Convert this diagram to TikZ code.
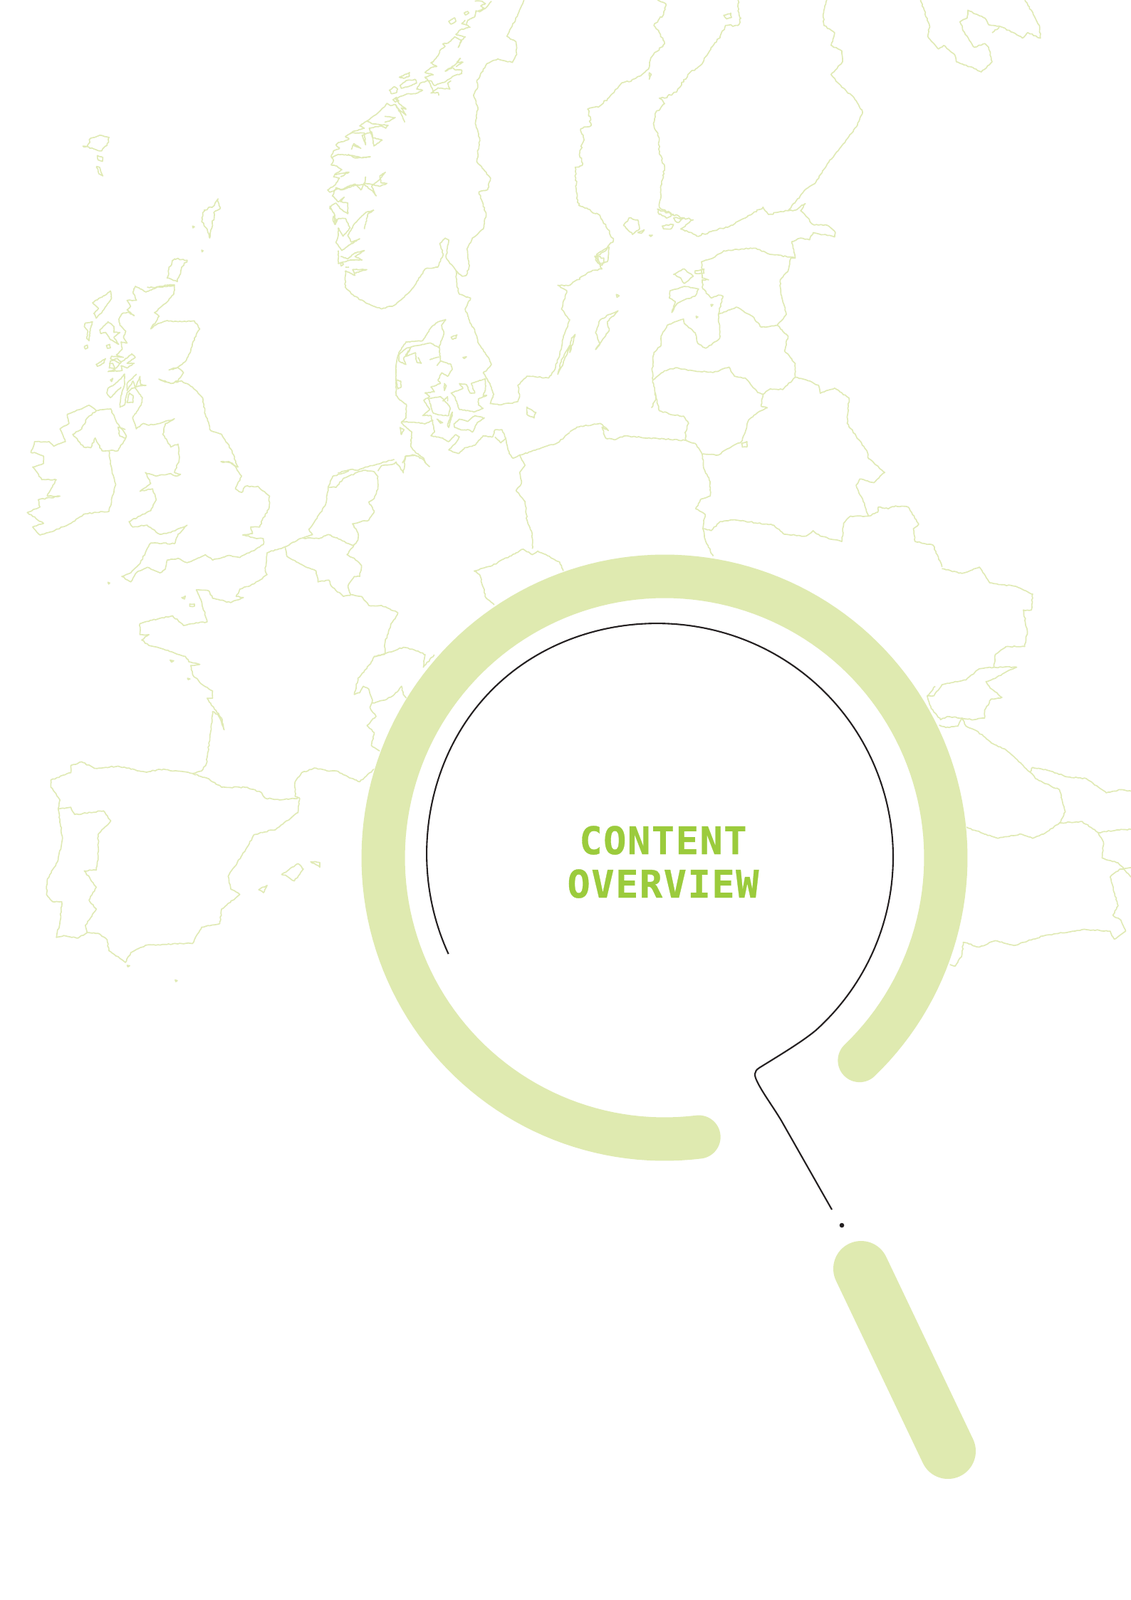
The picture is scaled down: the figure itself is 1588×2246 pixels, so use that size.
\documentclass[tikz,border=0pt]{standalone}
\usepackage{fontspec}
\usetikzlibrary{decorations.pathmorphing}
\newfontfamily\titlefont[LetterSpace=3.0,FakeBold=0.6]{DejaVu Sans Mono Bold}
\definecolor{mapc}{HTML}{E0EAB4}
\definecolor{ringc}{HTML}{DFEAB0}
\definecolor{titlec}{HTML}{9BCB3C}
\definecolor{inkc}{HTML}{231F20}
\tikzset{
 mapl/.style={draw=mapc,line width=0.82pt,line join=round,decorate,decoration={random steps,segment length=1.5pt,amplitude=0.4pt}},
 jag/.style={draw=mapc,line width=0.82pt,line join=round,decorate,decoration={random steps,segment length=1.5pt,amplitude=0.7pt}},
 fine/.style={draw=mapc,line width=0.82pt,line join=round,decorate,decoration={random steps,segment length=1pt,amplitude=0.25pt}},
 za/.style={x=0.2551pt,y=-0.2551pt},
 zb/.style={x=0.25126pt,y=-0.2551pt,shift={(400pt,0pt)}},
 zc/.style={x=0.2551pt,y=-0.2551pt,shift={(0pt,-300pt)}},
 zd/.style={x=0.18748pt,y=-0.22321pt,shift={(500pt,-350pt)}},
 zm/.style={x=0.16667pt,y=-0.16667pt,shift={(270pt,0pt)}},
 zn/.style={x=0.16667pt,y=-0.16667pt,shift={(227.5pt,-85pt)}},
 zs/.style={x=0.16667pt,y=-0.16667pt,shift={(55pt,-197.5pt)}},
 zk/.style={x=0.16667pt,y=-0.16667pt,shift={(275pt,-220pt)}},
 ringl/.style={draw=ringc,line width=30.5pt,line cap=round},
 handl/.style={draw=ringc,line width=39pt,line cap=round},
 inkl/.style={draw=inkc,line width=1.05pt,line join=round},
 titlet/.style={text=titlec,font=\titlefont\fontsize{26.75}{30}\selectfont,anchor=base,inner sep=0pt}
}
\begin{document}
\begin{tikzpicture}[x=0.5pt,y=-0.5pt]
\path[use as bounding box,fill=white] (0,0) rectangle (1588,2246);
% ---------- north-west map
\begin{scope}[za]
% Faroe, Shetland, Orkney
\draw[jag] (228,402)--(240,403)--(250,380)--(275,372)--(300,378)--(295,395)--(280,415)--(265,412)--(245,405)--cycle;
\draw[mapl] (268,428)--(283,433)--(282,444)--(270,440)--cycle;
\draw[mapl] (266,458)--(275,462)--(283,484)--(272,478)--cycle;
\draw[jag] (600,547)--(605,575)--(588,585)--(585,620)--(577,655)--(570,630)--(555,610)--(562,578)--(590,565)--cycle;
\draw[mapl] (530,622)--(535,624)--(531,627)--cycle;
\draw[mapl] (555,688)--(559,690)--(556,693)--cycle;
\draw[jag] (480,712)--(515,716)--(500,735)--(488,775)--(460,765)--(465,735)--cycle;
% Great Britain east
\draw[mapl] (405,790)--(440,790)--(480,785)--(478,810)--(455,835)--(425,860)--(438,870)--(415,905)--(435,890)--(460,882)--(490,885)--(535,883)--(550,905)--(535,930)--(525,965)--(510,995)--(490,1010)--(465,1018)--(490,1012)--(505,1025)--(490,1048)--(470,1055)--(437,1043)--(470,1055)--(500,1048)--(530,1065)--(558,1095)--(565,1140)--(580,1185)--(610,1195)--(635,1235)--(655,1285)--(630,1270)--(608,1270)--(640,1275)--(665,1310)--(648,1345)--(665,1355)--(675,1338)--(710,1338)--(742,1365)--(740,1400)--(722,1430)--(715,1450)--(690,1450)--(695,1468)--(668,1472)--(700,1480)--(725,1482);
% Great Britain west of the Irish Sea
\draw[mapl] (368,1143)--(365,1150)--(375,1180)--(395,1165)--(410,1170)--(440,1165)--(480,1152)--(455,1165)--(448,1195)--(470,1230)--(490,1222)--(493,1265)--(480,1300)--(497,1305)--(485,1310)--(470,1303)--(430,1310)--(415,1305)--(400,1300)--(415,1330)--(385,1352)--(420,1345)--(430,1375)--(415,1405)--(385,1420)--(355,1435)--(365,1450)--(405,1445)--(440,1470)--(470,1465)--(515,1445)--(490,1470)--(480,1496);
% Ireland
\draw[mapl] (95,1215)--(135,1215)--(148,1228)--(180,1215)--(165,1180)--(190,1165)--(185,1140)--(225,1125)--(245,1115)--(265,1130)--(305,1125)--(320,1160)--(335,1180)--(348,1200)--(325,1240)--(300,1240)--(305,1280)--(318,1335)--(300,1407)--(265,1410)--(230,1415)--(195,1440)--(150,1460)--(110,1472)--(90,1450)--(120,1440)--(75,1410)--(110,1395)--(105,1375)--(165,1365)--(130,1365)--(155,1320)--(115,1320)--(90,1285)--(120,1275)--(120,1255)--(95,1245)--(85,1245)--cycle;
\draw[mapl] (265,1130)--(240,1150)--(225,1180)--(200,1195)--(230,1230)--(250,1232)--(262,1205)--(280,1240)--(300,1240);
\draw[mapl] (345,1182)--(325,1175)--(330,1200)--(345,1205);
% South Norway and Sweden west coast
\draw[mapl] (950,745)--(950,790)--(975,815)--(1010,835)--(1050,850)--(1085,840)--(1130,800)--(1170,740)--(1205,735)--(1220,700)--(1210,670)--(1225,655)--(1235,660)--(1228,710)--(1255,745)--(1258,790)--(1265,810)--(1295,820)--(1280,850)--(1287,866);
\draw[mapl] (1411,1109)--(1425,1105)--(1430,1090)--(1425,1060)--(1450,1035)--(1510,1040)--(1525,1020)--(1545,960)--(1550,930)--(1568,880)--(1545,850)--(1560,800)--(1535,785)--(1568,785);
\draw[mapl] (1411,1261)--(1440,1250)--(1535,1218)--(1568,1190);
% Norway-Sweden border
\draw[mapl] (1442,0)--(1425,40)--(1395,100)--(1420,115)--(1422,150)--(1410,172)--(1370,162)--(1340,175)--(1312,225)--(1315,240)--(1303,262)--(1315,295)--(1308,340)--(1320,380)--(1312,445)--(1330,465)--(1350,490)--(1342,522)--(1318,528)--(1338,590)--(1330,630)--(1300,655)--(1285,685)--(1292,730)--(1283,758)--(1272,760)--(1255,745);
% Germany-Poland border, Bornholm, Oland
\draw[mapl] (1430,1250)--(1445,1280)--(1430,1300)--(1435,1330)--(1420,1350)--(1445,1380)--(1450,1430)--(1465,1470)--(1465,1510);
\draw[mapl] (1450,1120)--(1475,1135)--(1470,1150)--(1450,1140)--cycle;
\draw[mapl] (1568,950)--(1545,990)--(1535,1030)--(1550,1000)--cycle;
\end{scope}
% ---------- Norway, north
\begin{scope}[zm]
\draw[fine] (450,5)--(430,30)--(400,50)--(385,45)--(380,70)--(350,85)--(345,105)--(360,115)--(320,125)--(300,145)--(340,155)--(320,175)--(310,200)--(325,170)--(295,155)--(285,165)--(270,180)--(245,185)--(255,195)--(235,210)--(225,235)--(205,260)--(195,265)--(220,280)--(195,285)--(170,305)--(205,315)--(170,325)--(185,340)--(150,350)--(135,375)--(160,380)--(130,395)--(95,395)--(70,405)--(45,415)--(60,435)--(90,460)--(70,455)--(90,485)--(60,460)--(45,440)--(25,445)--(10,435)--(0,450);
\draw[fine] (380,5)--(410,5)--(425,15)--(405,25)--(420,35)--(395,45);
\draw[fine] (320,245)--(300,270)--(255,300)--(285,285)--(300,295)--(325,295)--(325,310)--(290,320)--(255,345)--(210,360)--(195,340)--(185,340)--(205,385)--(195,392)--(225,390)--(228,402);
\draw[fine] (205,385)--(225,370)--(275,375)--(265,350)--(280,340);
\draw[fine] (320,245)--(305,262)--(330,262)--(300,280);
\draw[fine] (335,55)--(350,48)--(355,55)--(340,63)--cycle;
\draw[fine] (270,90)--(295,75)--(300,90)--(280,102)--cycle;
\draw[fine] (340,85)--(325,100)--(345,105);
\draw[fine] (62,325)--(105,305)--(105,320)--(80,330)--cycle;
\draw[fine] (65,360)--(90,340)--(130,335)--(135,350)--(100,365)--(70,372)--cycle;
\draw[fine] (20,380)--(40,365)--(55,375)--(50,390)--(30,395)--cycle;
\draw[fine] (35,420)--(50,410)--(60,425)--(45,430)--cycle;
\draw[fine] (0,490)--(45,495)--(20,510)--(0,515);
\draw[fine] (45,440)--(75,490)--(85,515);
\end{scope}
% ---------- Norway, south
\begin{scope}[zn]
\draw[fine] (255,-60)--(215,-25)--(180,0)--(150,20)--(170,30)--(120,45)--(90,65)--(105,75)--(85,85)--(60,90)--(50,100)--(65,115)--(40,125)--(30,150)--(40,165)--(30,185)--(55,190)--(75,205)--(45,225)--(40,235)--(65,240)--(45,270)--(15,290)--(25,300)--(45,290)--(60,285)--(70,290)--(100,275)--(130,265)--(155,290)--(170,260)--(235,275)--(265,262)--(240,260)--(235,230)--(258,215)--(235,245)--(210,265)--(200,275)--(220,315)--(205,295)--(170,268)--(175,235)--(170,268)--(130,270)--(75,290)--(50,280)--(35,315)--(60,340)--(85,320)--(70,340)--(100,345)--(100,390)--(70,370)--(50,345)--(25,360)--(45,395)--(45,435)--(60,410)--(90,410)--(110,450)--(80,485)--(60,450)--(60,480)--(50,510)--(75,545)--(110,520)--(150,495)--(115,510)--(100,480)--(130,430)--(175,385)--(210,375);
\draw[fine] (210,375)--(185,390)--(170,455);
\draw[fine] (60,545)--(60,600)--(110,585)--(160,585)--(130,570)--(170,545)--(130,555)--(100,580)--(70,570);
\draw[fine] (90,630)--(130,650)--(120,625)--(180,625)--(130,640);
\draw[fine] (90,615)--(105,615);
\draw[fine] (70,595)--(82,602)--(72,610)--cycle;
\draw[fine] (25,358)--(30,372)--(24,368)--cycle;
\draw[fine] (110,50)--(170,50)--(175,100)--(160,60)--(200,45)--(210,105)--(245,80)--(205,70)--(190,30)--(240,20)--(260,30)--(270,18)--(200,10)--(180,0);
\draw[fine] (120,100)--(155,115)--(125,95)--(115,120);
\draw[fine] (100,140)--(130,155)--(195,150)--(160,155)--(120,145)--(60,140)--(30,155);
\draw[fine] (45,225)--(105,215)--(70,235);
\draw[fine] (40,400)--(52,415)--(48,435)--(38,420)--cycle;
\end{scope}
% ---------- Scotland
\begin{scope}[zs]
\draw[fine] (240,20)--(230,45)--(245,80)--(205,80)--(220,105)--(205,120)--(235,145)--(210,130)--(185,135)--(170,160)--(175,185)--(200,210)--(190,235)--(205,260)--(180,255)--(185,285)--(160,310)--(190,320)--(140,315)--(135,325)--(175,345)--(225,305)--(240,320)--(205,345)--(235,345)--(205,365)--(180,355)--(185,375)--(125,380)--(155,370)--(145,345)--(130,345);
\draw[fine] (240,20)--(285,45)--(330,25)--(375,15)--(405,15)--(382,20);
\draw[fine] (245,390)--(205,430)--(205,460)--(230,420)--(240,450)--(260,400)--(262,435)--(285,438)--(260,440)--(225,450)--(205,470)--(195,520)--(175,530)--(180,480)--(195,430)--(195,390)--(180,410)--(150,435)--(125,450)--(120,470)--(135,490)--(180,445);
\draw[fine] (240,450)--(270,490)--(265,520)--(235,565);
\draw[fine] (215,470)--(230,480)--(230,510)--(205,510)--cycle;
\draw[fine] (135,40)--(140,70)--(120,100)--(100,130)--(75,155)--(65,135)--(85,115)--(60,90)--(90,70)--(110,60)--cycle;
\draw[fine] (30,175)--(60,170)--(50,200)--(45,250)--(35,240)--(40,210)--(25,190)--cycle;
\draw[fine] (25,275)--(38,268)--(40,280)--(30,285)--cycle;
\draw[fine] (90,205)--(125,170)--(150,190)--(150,215)--(175,215)--(150,235)--(170,265)--(135,245)--(115,215)--(95,220)--cycle;
\draw[fine] (118,270)--(132,265)--(135,280)--(122,282)--cycle;
\draw[fine] (75,350)--(115,325)--(105,345)--(80,358)--cycle;
\draw[fine] (135,415)--(145,408)--(140,422)--cycle;
\draw[fine] (135,335)--(165,325)--(180,340)--(160,365)--(130,365)--cycle;
\end{scope}
% ---------- Denmark and Skane
\begin{scope}[zk]
\draw[fine] (228,25)--(195,35)--(165,60)--(130,115)--(60,120)--(30,165)--(18,220)--(18,345)--(30,360)--(50,375)--(62,385)--(60,440)--(40,460)--(85,500)--(80,560)--(100,585)--(135,610)--(140,630);
\draw[fine] (45,630)--(60,600)--(100,597);
\draw[fine] (228,25)--(210,50)--(220,85)--(200,140)--(205,200)--(250,215)--(255,235)--(235,265)--(210,250)--(195,280)--(205,295)--(165,310)--(180,330)--(140,335)--(160,350)--(135,365)--(160,405)--(130,430)--(165,430)--(175,470)--(180,500)--(165,515)--(215,525)--(240,540)--(270,510)--(285,520)--(270,545)--(240,575)--(280,590)--(310,565)--(350,555)--(385,515)--(425,520)--(435,490)--(465,490)--(480,525)--(495,590)--(510,610);
\draw[fine] (435,520)--(460,545)--(480,525);
\draw[fine] (40,455)--(110,460)--(140,465)--(175,450);
\draw[fine] (30,175)--(50,155)--(65,145)--(85,140)--(130,130)--(165,125)--(200,145);
\draw[fine] (30,175)--(30,200)--(60,215)--(50,190)--(80,145)--(60,180)--(100,165)--(105,205)--(125,210)--(110,185);
\draw[fine] (160,195)--(200,183);
\draw[fine] (190,220)--(205,200);
\draw[fine] (250,100)--(275,90)--(270,105)--(255,108)--cycle;
\draw[fine] (300,185)--(315,182)--(305,190)--cycle;
\draw[fine] (222,295)--(230,305)--(222,325)--(220,310)--cycle;
\draw[fine] (155,360)--(205,350)--(235,380)--(247,400)--(240,430)--(215,430)--(175,420)--(165,390)--cycle;
\draw[fine] (215,370)--(235,350)--(235,370);
\draw[fine] (255,415)--(235,470)--(240,480)--(255,430)--cycle;
\draw[fine] (190,445)--(215,460)--(205,462)--cycle;
\draw[fine] (250,335)--(280,325)--(300,315)--(285,295)--(315,300)--(330,335)--(350,335)--(335,295)--(395,275)--(395,320)--(385,345)--(400,345)--(365,360)--(365,385)--(385,400)--(345,415)--(325,410)--(285,405)--(265,350)--cycle;
\draw[fine] (262,465)--(285,445)--(320,455)--(350,430)--(390,440)--(360,460)--(340,500)--(325,490)--(290,490)--(265,480)--cycle;
\draw[fine] (320,5)--(330,40)--(350,70)--(365,125)--(410,190)--(420,215)--(400,240)--(385,250)--(410,290)--(430,340)--(415,380)--(460,385)--(490,378)--(510,378);
\draw[fine] (40,510)--(52,490)--(35,480)--cycle;
\draw[fine] (20,280)--(38,285)--(40,310)--(25,318)--cycle;
\end{scope}
% ---------- north-east map
\begin{scope}[zb]
\draw[jag] (245,0)--(268,10)--(262,40)--(235,70)--(260,105)--(265,120)--(230,155)--(220,190)--(185,215)--(165,225)--(145,228)--(130,245)--(110,268)--(80,295)--(50,300)--(60,345)--(30,355)--(40,385)--(28,420)--(35,455)--(15,460)--(18,520)--(25,565)--(50,575)--(85,595)--(105,630)--(122,660)--(100,690)--(70,705)--(90,740)--(50,750)--(0,785);
\draw[mapl] (222,200)--(228,205)--(222,218)--cycle;
\draw[mapl] (135,855)--(110,865)--(85,880)--(72,915)--(85,945)--(72,962)--(110,910)--(105,885)--cycle;
\draw[mapl] (15,920)--(0,970)--(5,930)--cycle;
\draw[mapl] (130,810)--(138,814)--(132,818)--cycle;
\draw[mapl] (280,800)--(320,788)--(360,795)--(350,815)--(320,825)--(300,835)--(285,860)--(295,830)--(278,820)--cycle;
\draw[mapl] (290,755)--(320,740)--(345,760)--(320,780)--(310,765)--cycle;
\draw[mapl] (350,745)--(375,740)--(375,752)--(350,752)--cycle;
% Finland
\draw[jag] (470,0)--(470,30)--(478,50)--(470,70)--(435,70)--(420,100)--(395,130)--(365,180)--(330,205)--(300,250)--(265,270)--(250,270)--(265,285)--(240,310)--(235,345)--(250,380)--(250,420)--(265,460)--(255,510)--(250,570)--(285,590)--(320,600)--(345,605)--(310,630)--(340,640)--(355,650)--(400,635)--(450,620)--(490,600)--(540,570)--(555,590)--(610,580);
\draw[mapl] (430,42)--(450,36)--(452,48)--(438,52)--cycle;
\draw[mapl] (610,580)--(660,520)--(685,505)--(720,450)--(765,395)--(800,350)--(818,308)--(795,270)--(760,240)--(730,205)--(762,170)--(760,140)--(730,125)--(740,90)--(710,70)--(708,40)--(718,0);
% Aland and archipelago
\draw[jag] (150,620)--(165,600)--(190,605)--(195,630)--(175,645)--cycle;
\draw[mapl] (190,640)--(208,632)--(200,642)--cycle;
\draw[mapl] (222,647)--(231,647)--(226,651)--cycle;
\draw[jag] (258,622)--(290,618)--(285,628)--(262,630)--cycle;
\draw[jag] (290,600)--(320,600)--(300,612)--cycle;
\draw[jag] (245,575)--(290,590)--(270,600)--(250,590)--cycle;
\draw[mapl] (75,700)--(110,680)--(105,720)--(85,725)--cycle;
\draw[jag] (70,705)--(95,710)--(90,730)--(72,715)--cycle;
% Baltic states
\draw[mapl] (0,1188)--(20,1175)--(85,1165)--(108,1185)--(90,1175)--(100,1205)--(125,1210)--(150,1200)--(325,1212);
\draw[mapl] (325,1212)--(350,1220)--(370,1250)--(375,1290)--(392,1325)--(392,1365)--(365,1375)--(352,1400)--(378,1415)--(372,1455)--(380,1490)--(400,1530);
\draw[mapl] (325,1212)--(322,1190)--(332,1165)--(318,1145)--(290,1142)--(250,1130)--(238,1080)--(232,1045);
\draw[mapl] (238,1080)--(240,1100)--(228,1122);
\draw[mapl] (232,1045)--(230,1020)--(235,970)--(255,950)--(255,925)--(272,895)--(318,878)--(320,890)--(350,915)--(358,945)--(380,958)--(415,935)--(420,925)--(415,865)--(428,815)--(415,812)--(395,820)--(372,795)--(370,770)--(388,770)--(370,765)--(368,720)--(400,710)--(430,690)--(480,685)--(520,683)--(560,700)--(615,707)--(630,710);
\draw[mapl] (232,1045)--(265,1020)--(295,1012)--(345,1020)--(400,1025)--(445,1010)--(460,1035)--(490,1040)--(525,1080)--(540,1085)--(560,1070)--(595,1072)--(630,1038);
\draw[mapl] (540,1085)--(535,1118)--(552,1122)--(525,1135)--(500,1155)--(490,1190)--(480,1215)--(440,1235)--(415,1252)--(370,1250);
\draw[mapl] (480,1220)--(495,1215)--(495,1230)--(482,1230)--cycle;
\draw[mapl] (415,865)--(465,845)--(510,870)--(535,900)--(580,895)--(610,925)--(600,965)--(630,1000)--(630,1038);
\draw[mapl] (580,895)--(605,865)--(590,810)--(588,770)--(610,745)--(618,710)--(630,710)--(620,665)--(645,655)--(670,660)--(680,640)--(740,652)--(742,640)--(720,620)--(680,618)--(660,595)--(645,580)--(658,560)--(630,578)--(610,580);
\draw[mapl] (394,838)--(400,838)--(396,843)--cycle;
\draw[mapl] (353,870)--(358,872)--(354,875)--cycle;
% Belarus
\draw[mapl] (630,1038)--(660,1045)--(695,1060)--(700,1082)--(740,1068)--(780,1095)--(775,1165)--(800,1200)--(830,1240)--(835,1262)--(880,1300)--(850,1328)--(810,1318)--(800,1335)--(820,1380)--(835,1420);
\draw[mapl] (372,1455)--(395,1460)--(420,1435)--(460,1430)--(570,1445)--(600,1470)--(660,1475)--(680,1460)--(700,1475)--(760,1490)--(765,1440)--(785,1420)--(835,1420)--(860,1410)--(862,1395)--(890,1400)--(910,1392)--(945,1395)--(975,1442)--(960,1455)--(965,1490)--(1015,1500)--(1040,1560);
% Kola and White Sea
\draw[mapl] (980,0)--(1005,70)--(1000,100)--(1030,135)--(1045,125)--(1075,150)--(1080,170)--(1135,190)--(1150,198)--(1180,170)--(1170,130)--(1160,120)--(1130,130)--(1105,95)--(1090,60)--(1110,50)--(1112,28)--(1160,50)--(1170,68)--(1200,72)--(1240,90)--(1265,105)--(1280,90)--(1315,105)--(1312,70)--(1295,40)--(1272,0);
\draw[mapl] (1180,90)--(1200,75);
\end{scope}
% ---------- south-west map
\begin{scope}[zc]
% Wales and south coast of England
\draw[mapl] (480,320)--(415,318)--(400,345)--(385,375)--(360,400)--(335,410)--(360,425)--(375,400)--(405,385)--(440,400)--(455,390)--(460,365)--(490,360)--(515,372)--(540,362)--(565,350)--(585,365)--(630,352)--(660,358)--(695,340)--(725,322)--(725,306);
% Low countries and Germany
\draw[mapl] (785,328)--(830,305)--(860,295)--(850,280)--(868,255)--(895,215)--(905,160)--(915,135)--(960,120);
\draw[mapl] (905,165)--(925,165)--(945,140)--(1000,118)--(1030,122)--(1040,135)--(1040,170)--(1030,195)--(1015,205)--(1030,230)--(1015,255)--(970,265)--(985,290)--(985,310)--(965,335)--(955,350)--(975,360)--(995,380)--(990,410)--(975,410)--(958,435)--(965,460)--(995,465);
\draw[mapl] (930,125)--(970,115)--(985,118)--(1020,105)--(1085,88);
\draw[mapl] (1040,120)--(1050,105)--(1085,100)--(1090,95)--(1110,125)--(1115,80)--(1135,75)--(1160,85)--(1183,108);
\draw[mapl] (835,305)--(880,305)--(905,295)--(960,320)--(975,325);
\draw[mapl] (785,328)--(790,355)--(825,375)--(870,395)--(875,425)--(905,420)--(915,440)--(945,465)--(965,462);
\draw[mapl] (995,465)--(1015,490)--(1050,490)--(1095,510)--(1075,545)--(1060,590)--(1058,625);
\draw[mapl] (1058,625)--(1030,630)--(1020,650)--(985,690)--(975,735)--(990,730)--(1000,712)--(1015,720)--(1025,750)--(1018,770)--(1035,795)--(1010,820)--(1030,840)--(1022,875)--(1045,890);
\draw[mapl] (1030,630)--(1060,622)--(1110,605)--(1140,612)--(1170,625)--(1165,660)--(1195,625);
\draw[mapl] (1025,758)--(1060,750)--(1085,735)--(1105,712)--(1110,735)--(1125,750);
% France and Spain
\draw[mapl] (785,328)--(735,345)--(730,395)--(735,405)--(700,430)--(660,445)--(650,465)--(670,468)--(635,482)--(585,470)--(575,450)--(540,447)--(555,480)--(570,535)--(530,540)--(505,545)--(475,518)--(420,530)--(385,540)--(385,570)--(410,570)--(390,585)--(410,600)--(450,610)--(510,630)--(520,645)--(550,652)--(525,655)--(530,680)--(560,710)--(585,725)--(585,745)--(570,745)--(590,775)--(610,800)--(617,832)--(600,790)--(585,782)--(578,850)--(568,925)--(555,945)--(530,952);
\draw[mapl] (530,952)--(570,965)--(610,990)--(680,990)--(720,1005)--(730,1020)--(770,1025)--(820,1020);
\draw[mapl] (825,1020)--(812,1015)--(812,975)--(830,950)--(865,937)--(900,945)--(925,945)--(965,965)--(990,975)--(1030,940);
\draw[mapl] (530,952)--(480,945)--(450,940)--(400,948)--(325,932)--(260,938)--(225,920)--(195,930)--(195,950)--(140,970)--(140,990)--(165,1025)--(160,1050)--(172,1130)--(160,1190)--(130,1245)--(128,1285)--(145,1305)--(170,1305)--(165,1360)--(155,1403)--(175,1398)--(215,1405)--(240,1390)--(270,1392)--(295,1410)--(300,1440)--(345,1472)--(360,1445)--(400,1425)--(500,1420)--(530,1420)--(555,1375)--(605,1365)--(610,1325)--(660,1285)--(635,1270)--(628,1235)--(680,1155)--(700,1120)--(760,1105)--(820,1060)--(825,1020);
\draw[mapl] (160,1050)--(195,1045)--(205,1065)--(285,1055)--(305,1082)--(270,1120)--(270,1190)--(265,1218)--(232,1220)--(265,1265)--(245,1300)--(265,1325)--(235,1370)--(240,1390);
\draw[mapl] (775,1230)--(820,1200)--(835,1215)--(810,1248)--(790,1235)--cycle;
\draw[mapl] (855,1195)--(880,1197)--(880,1210)--cycle;
\draw[mapl] (712,1272)--(735,1260)--(725,1280)--cycle;
\draw[mapl] (500,468)--(510,464)--(508,472)--cycle;
\draw[mapl] (522,486)--(535,486)--(535,492)--(522,492)--cycle;
\draw[mapl] (468,640)--(478,642)--(472,646)--cycle;
\draw[mapl] (516,690)--(523,692)--(518,694)--cycle;
\draw[mapl] (297,426)--(302,428)--(299,431)--cycle;
\draw[mapl] (482,1520)--(488,1522)--(484,1525)--cycle;
\draw[mapl] (350,1480)--(357,1481)--(352,1484)--cycle;
% Czech border
\draw[mapl] (1360,488)--(1335,465)--(1330,440)--(1320,405)--(1305,395)--(1355,380)--(1420,345)--(1440,335)--(1465,350)--(1480,340)--(1540,370)--(1550,395);
\end{scope}
% ---------- south-east map
\begin{scope}[zd]
\draw[mapl] (860,220)--(935,235)--(1000,215)--(1040,265)--(1130,275)--(1200,300)--(1195,350)--(1165,350)--(1180,420)--(1170,465)--(1100,465)--(1060,490)--(1055,530)--(1140,530)--(1100,545)--(1060,565)--(1025,575)--(1040,595)--(1085,625)--(1045,630)--(1020,665)--(1020,690)--(980,695)--(935,690)--(950,715)--(990,730)--(1050,770)--(1100,790)--(1190,860)--(1200,845)--(1260,855)--(1330,875)--(1400,880)--(1475,925)--(1530,915)--(1568,920);
\draw[mapl] (1055,530)--(1000,535)--(950,570)--(910,575)--(860,585)--(830,620)--(805,620)--(835,590);
\draw[mapl] (805,620)--(820,660)--(855,695)--(880,685)--(935,690)--(920,715)--(875,720)--(850,712);
\draw[mapl] (1190,860)--(1210,880)--(1270,905)--(1300,915)--(1322,985)--(1300,1020)--(1240,1055)--(1200,1068)--(1150,1055)--(1070,1068)--(1020,1055)--(950,1032);
\draw[mapl] (1300,1020)--(1385,1015)--(1445,1050)--(1530,1040)--(1568,1040);
\draw[mapl] (1445,1050)--(1465,1080)--(1460,1130)--(1520,1145)--(1568,1190);
\draw[mapl] (1568,1160)--(1525,1165)--(1490,1190)--(1520,1280)--(1500,1310)--(1530,1325)--(1548,1360)--(1505,1385)--(1490,1360)--(1400,1355)--(1350,1360)--(1240,1375)--(1130,1405)--(1060,1390)--(1000,1410)--(940,1395)--(935,1435)--(910,1470)--(890,1465);
\end{scope}
% ---------- magnifier
\fill[white] (933,1204) circle[radius=426];
\draw[ringl] plot[domain=83:406.1,samples=160] ({933+395*cos(\x)},{1204+395*sin(\x)});
\draw[handl] (1209,1781) -- (1331,2037);
\draw[inkl] plot[domain=155.4:408,samples=180] ({927+(327+6*(0.5+0.5*cos(\x-225))^12)*cos(\x)},{1203+(327+6*(0.5+0.5*cos(\x-225))^12)*sin(\x)}) .. controls (1125,1463.6) and (1085,1487) .. (1066,1499) .. controls (1058,1504) and (1059,1510) .. (1063,1518) .. controls (1070,1533) and (1085,1553) .. (1097,1573) -- (1168,1698);
\fill[inkc] (1182,1720) circle[radius=3.3];
\node[titlet] (titleone) at (931,1199) {CONTENT};
\node[titlet] (titletwo) at (931,1260) {OVERVIEW};
\end{tikzpicture}
\end{document}
